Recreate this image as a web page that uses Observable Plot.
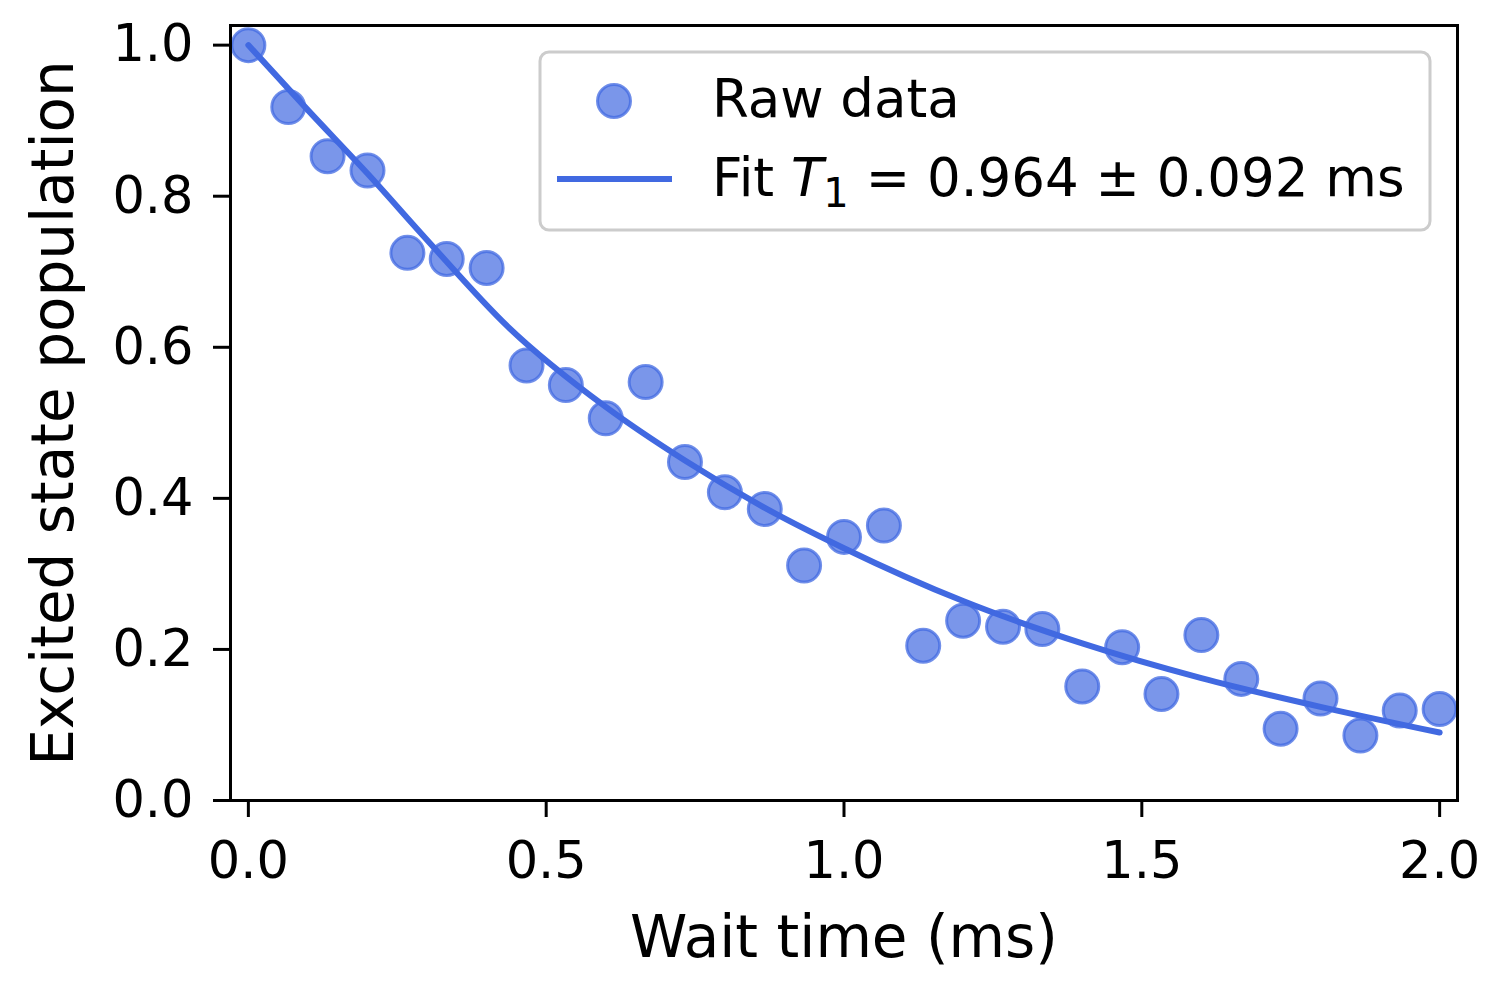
<!DOCTYPE html>
<html><head><meta charset="utf-8">
<script src="https://cdn.jsdelivr.net/npm/d3@7"></script>
<script src="https://cdn.jsdelivr.net/npm/@observablehq/plot@0.6"></script>
<style>body{margin:0;background:#fff} svg{font-family:"DejaVu Sans"}</style>
</head><body><div id="chart"></div><script>
const waitTime = [0, 0.067, 0.133, 0.2, 0.267, 0.333, 0.4, 0.467, 0.533, 0.6, 0.667, 0.733, 0.8, 0.867, 0.933, 1.0, 1.067, 1.133, 1.2, 1.267, 1.333, 1.4, 1.467, 1.533, 1.6, 1.667, 1.733, 1.8, 1.867, 1.933, 2.0];
const population = [1.0, 0.918, 0.853, 0.834, 0.725, 0.717, 0.705, 0.576, 0.550, 0.506, 0.554, 0.448, 0.408, 0.386, 0.311, 0.349, 0.364, 0.205, 0.238, 0.230, 0.227, 0.151, 0.203, 0.141, 0.219, 0.161, 0.095, 0.135, 0.086, 0.119, 0.121];
const fitTime = [0, 0.1, 0.2, 0.3, 0.436, 0.6, 0.733, 0.861, 1.0, 1.2, 1.4, 1.6, 1.8, 2.0];
const fitPopulation = [1.0, 0.914, 0.830, 0.742, 0.627, 0.521, 0.450, 0.390, 0.334, 0.264, 0.208, 0.162, 0.124, 0.090];
const xTicks = [0, 0.5, 1.0, 1.5, 2.0];
const yTicks = [0, 0.2, 0.4, 0.6, 0.8, 1.0];
const xLabel = "Wait time (ms)";
const yLabel = "Excited state population";
const legendRaw = "Raw data";
const legendFitPre = "Fit ";
const legendFitVar = "T";
const legendFitSub = "1";
const legendFitPost = " = 0.964 ± 0.092 ms";

const raw = waitTime.map((t, i) => ({t, p: population[i]}));
const fit = fitTime.map((t, i) => ({t, p: fitPopulation[i]}));
const blue = "royalblue";

const chart = Plot.plot({
  width: 1500, height: 1000,
  marginLeft: 230, marginRight: 43, marginTop: 25, marginBottom: 200,
  style: {fontFamily: "DejaVu Sans", fontSize: "51px", color: "#000", background: "#fff"},
  x: {domain: [-0.03, 2.03]},
  y: {domain: [0, 1.026]},
  marks: [
    Plot.dot(raw, {x: "t", y: "p", r: 16.5, fill: blue, fillOpacity: 0.7, stroke: blue, strokeOpacity: 0.75, strokeWidth: 3}),
    Plot.line(fit, {x: "t", y: "p", stroke: blue, strokeWidth: 6, curve: "monotone-x"}),
    Plot.frame({stroke: "#000", strokeWidth: 3}),
    Plot.axisX({ticks: xTicks, tickFormat: d => d.toFixed(1), tickSize: 17, tickPadding: 24, strokeWidth: 3, label: null, fontSize: 51}),
    Plot.axisY({ticks: yTicks, tickFormat: d => d.toFixed(1), tickSize: 17, tickPadding: 20, strokeWidth: 3, label: null, fontSize: 51}),
    Plot.text([xLabel], {frameAnchor: "bottom", textAnchor: "middle", dy: 156, fontSize: 58, fill: "#000"}),
    Plot.text([yLabel], {frameAnchor: "left", textAnchor: "middle", rotate: -90, dx: -176, fontSize: 58, fill: "#000"})
  ]
});
document.getElementById("chart").appendChild(chart);

// Legend
const svg = d3.select(chart);
const lg = svg.append("g").attr("font-family", "DejaVu Sans").attr("font-size", 53).attr("text-anchor", "start").attr("fill", "#000");
lg.append("rect").attr("x", 540).attr("y", 52).attr("width", 890).attr("height", 178)
  .attr("rx", 9).attr("fill", "#fff").attr("fill-opacity", 0.8).attr("stroke", "#cccccc").attr("stroke-width", 3);
lg.append("circle").attr("cx", 614).attr("cy", 101).attr("r", 16.5)
  .attr("fill", blue).attr("fill-opacity", 0.7).attr("stroke", blue).attr("stroke-opacity", 0.75).attr("stroke-width", 3);
lg.append("line").attr("x1", 557).attr("x2", 672).attr("y1", 179).attr("y2", 179)
  .attr("stroke", blue).attr("stroke-width", 6);
lg.append("text").attr("x", 712).attr("y", 117).attr("fill", "#000").text(legendRaw);
const t2 = lg.append("text").attr("x", 712).attr("y", 196).attr("fill", "#000");
t2.append("tspan").attr("fill", "#000").text(legendFitPre);
t2.append("tspan").attr("fill", "#000").attr("font-style", "italic").text(legendFitVar);
t2.append("tspan").attr("fill", "#000").attr("font-size", 40).attr("dy", 11).text(legendFitSub);
t2.append("tspan").attr("fill", "#000").attr("dy", -11).text(legendFitPost);
</script></body></html>
